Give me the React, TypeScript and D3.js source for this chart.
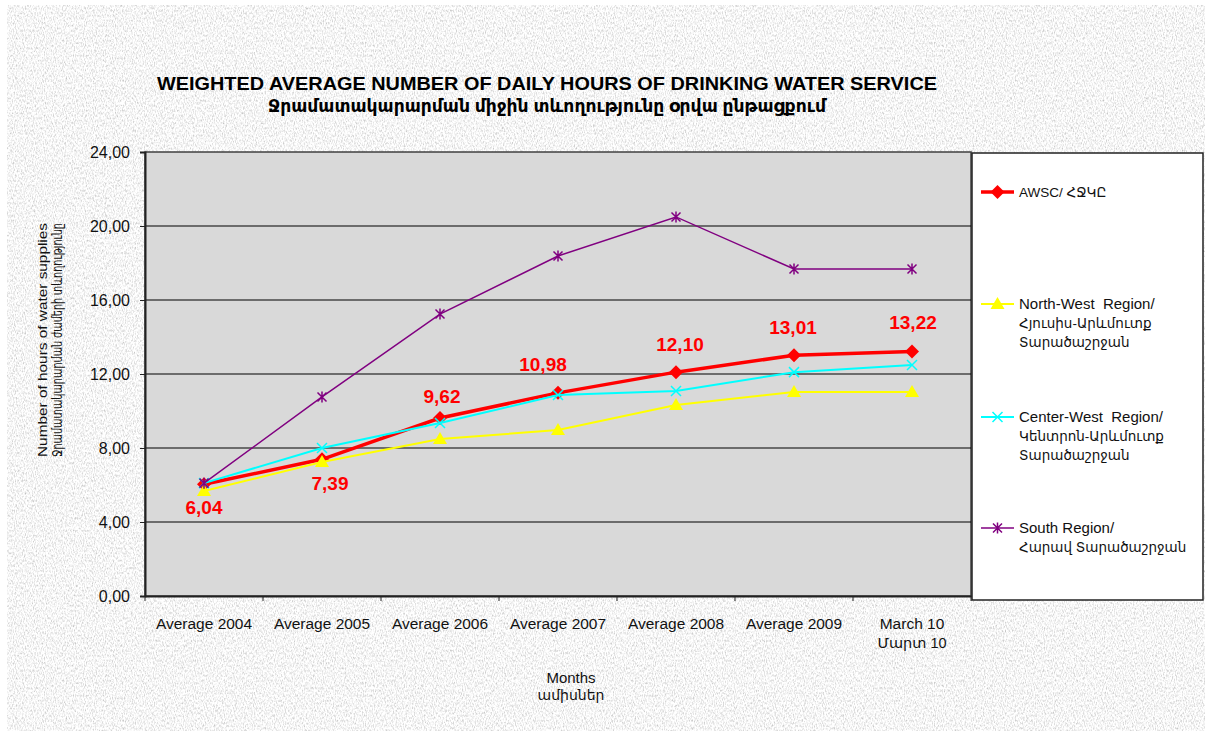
import React, { useEffect, useRef } from "react";
import * as d3 from "d3";

const categories = [
  "Average 2004",
  "Average 2005",
  "Average 2006",
  "Average 2007",
  "Average 2008",
  "Average 2009",
  "March 10",
];
const categoryLines = [[], [], [], [], [], [], ["March 10", "Մարտ 10"]];

const awsc = [6.04, 7.39, 9.62, 10.98, 12.1, 13.01, 13.22];
const northWest = [5.68, 7.24, 8.49, 8.97, 10.32, 11.03, 11.03];
const centerWest = [6.1, 8.0, 9.35, 10.86, 11.08, 12.1, 12.49];
const south = [6.1, 10.76, 15.24, 18.38, 20.49, 17.68, 17.68];

const yTicks = [0, 4, 8, 12, 16, 20, 24];

const seriesNames = [
  ["AWSC/ ՀՋԿԸ"],
  ["North-West  Region/", "Հյուսիս-Արևմուտք", "Տարածաշրջան"],
  ["Center-West  Region/", "Կենտրոն-Արևմուտք", "Տարածաշրջան"],
  ["South Region/", "Հարավ Տարածաշրջան"],
];

const FONT = "'Liberation Sans', Arial, 'DejaVu Sans', sans-serif";
const isArmenian = (s) => /[\u0530-\u058F]/.test(s.replace(/^AWSC\/ /, "x"));

function App() {
  const svgRef = useRef(null);
  const width = 1205;
  const height = 731;

  useEffect(() => {
    const svg = d3.select(svgRef.current);
    svg.selectAll("*").remove();

    const margin = { top: 152, right: 234, bottom: 135, left: 145 };
    const plotRight = width - margin.right;
    const plotBottom = height - margin.bottom;

    // granite-like background
    const defs = svg.append("defs");
    const filter = defs
      .append("filter")
      .attr("id", "granite")
      .attr("x", 0)
      .attr("y", 0)
      .attr("width", "100%")
      .attr("height", "100%");
    filter
      .append("feTurbulence")
      .attr("type", "fractalNoise")
      .attr("baseFrequency", "0.9 0.4")
      .attr("numOctaves", 3)
      .attr("seed", 7);
    filter
      .append("feColorMatrix")
      .attr("type", "matrix")
      .attr(
        "values",
        "0.9 0 0 0 0.47  0.9 0 0 0 0.47  0.9 0 0 0 0.47  0 0 0 0 1"
      );

    svg.append("rect").attr("width", width).attr("height", height).attr("fill", "#fff");
    svg
      .append("rect")
      .attr("x", 7)
      .attr("y", 5)
      .attr("width", width - 7)
      .attr("height", height - 5)
      .attr("filter", "url(#granite)");

    const x = d3.scaleBand().domain(categories).range([margin.left, plotRight]);
    const cx = (i) => x(categories[i]) + x.bandwidth() / 2;
    const y = d3.scaleLinear().domain([0, 24]).range([plotBottom, margin.top]);

    // plot area
    svg
      .append("rect")
      .attr("x", margin.left)
      .attr("y", margin.top)
      .attr("width", plotRight - margin.left)
      .attr("height", plotBottom - margin.top)
      .attr("fill", "#d9d9d9")
      .attr("stroke", "#404040")
      .attr("stroke-width", 1.5);

    // gridlines
    svg
      .append("g")
      .selectAll("line")
      .data(yTicks.filter((t) => t > 0 && t < 24))
      .join("line")
      .attr("x1", margin.left)
      .attr("x2", plotRight)
      .attr("y1", (d) => y(d))
      .attr("y2", (d) => y(d))
      .attr("stroke", "#000")
      .attr("stroke-width", 1.2);

    // y axis
    const yAxis = svg
      .append("g")
      .attr("transform", `translate(${margin.left},0)`)
      .call(
        d3
          .axisLeft(y)
          .tickValues(yTicks)
          .tickSize(5)
          .tickPadding(10)
          .tickFormat((d) => d3.format(".2f")(d).replace(".", ","))
      );
    yAxis.select(".domain").attr("stroke", "#222").attr("stroke-width", 2);
    yAxis.selectAll(".tick line").attr("stroke", "#222");
    yAxis
      .selectAll("text")
      .attr("font-family", FONT)
      .attr("font-size", 16)
      .attr("fill", "#111");

    // x axis
    const xAxis = svg
      .append("g")
      .attr("transform", `translate(0,${plotBottom})`)
      .call(d3.axisBottom(x).tickSize(0).tickFormat(""));
    xAxis.select(".domain").attr("stroke", "#222").attr("stroke-width", 2);
    xAxis
      .selectAll("line.sep")
      .data(d3.range(categories.length + 1))
      .join("line")
      .attr("class", "sep")
      .attr("x1", (i) => margin.left + i * x.bandwidth())
      .attr("x2", (i) => margin.left + i * x.bandwidth())
      .attr("y1", 0)
      .attr("y2", 5)
      .attr("stroke", "#222");

    categories.forEach((c, i) => {
      const lines = categoryLines[i].length ? categoryLines[i] : [c];
      const t = svg
        .append("text")
        .attr("x", cx(i))
        .attr("y", 629)
        .attr("text-anchor", "middle")
        .attr("font-family", FONT)
        .attr("font-size", 15.5)
        .attr("fill", "#111");
      lines.forEach((l, j) => {
        t.append("tspan")
          .attr("x", cx(i))
          .attr("dy", j === 0 ? 0 : 19)
          .attr("font-size", isArmenian(l) ? 14.5 : 15.5)
          .text(l);
      });
    });

    // titles
    svg
      .append("text")
      .attr("x", 547)
      .attr("y", 90)
      .attr("text-anchor", "middle")
      .attr("font-family", FONT)
      .attr("font-weight", "bold")
      .attr("font-size", 19)
      .attr("textLength", 780)
      .attr("lengthAdjust", "spacingAndGlyphs")
      .text("WEIGHTED AVERAGE NUMBER OF  DAILY HOURS OF DRINKING WATER SERVICE");
    svg
      .append("text")
      .attr("x", 547)
      .attr("y", 112)
      .attr("text-anchor", "middle")
      .attr("font-family", FONT)
      .attr("font-weight", "bold")
      .attr("font-size", 17)
      .attr("textLength", 558)
      .attr("lengthAdjust", "spacingAndGlyphs")
      .text("Ջրամատակարարման միջին տևողությունը օրվա ընթացքում");

    svg
      .append("text")
      .attr("x", 571)
      .attr("y", 683)
      .attr("text-anchor", "middle")
      .attr("font-family", FONT)
      .attr("font-size", 15)
      .attr("fill", "#111")
      .text("Months");
    svg
      .append("text")
      .attr("x", 571)
      .attr("y", 700)
      .attr("text-anchor", "middle")
      .attr("font-family", FONT)
      .attr("font-size", 14)
      .attr("fill", "#111")
      .text("ամիսներ");

    const yTitle = svg
      .append("text")
      .attr("transform", `translate(47,340) rotate(-90)`)
      .attr("text-anchor", "middle")
      .attr("font-family", FONT)
      .attr("font-size", 13.5)
      .attr("fill", "#111");
    yTitle
      .append("tspan")
      .attr("x", 0)
      .attr("y", 0)
      .attr("textLength", 234)
      .attr("lengthAdjust", "spacingAndGlyphs")
      .text("Number of hours of water supplies");
    yTitle
      .append("tspan")
      .attr("x", 0)
      .attr("y", 15)
      .attr("textLength", 234)
      .attr("lengthAdjust", "spacingAndGlyphs")
      .text("Ջրամատակարարման ժամերի տևողությունը");

    // series
    const series = [
      { values: awsc, color: "#ff0000", w: 3.5, marker: "diamond", ms: 7 },
      { values: northWest, color: "#ffff00", w: 2, marker: "triangle", ms: 7 },
      { values: centerWest, color: "#00ffff", w: 2, marker: "x", ms: 5 },
      { values: south, color: "#800080", w: 1.5, marker: "star", ms: 4.5 },
    ];

    const drawMarker = (g, type, px, py, color, s) => {
      if (type === "diamond") {
        g.append("path")
          .attr("d", `M${px},${py - s}L${px + s},${py}L${px},${py + s}L${px - s},${py}Z`)
          .attr("fill", color);
      } else if (type === "triangle") {
        g.append("path")
          .attr("d", `M${px},${py - s}L${px + s},${py + 5}L${px - s},${py + 5}Z`)
          .attr("fill", color);
      } else {
        g.append("path")
          .attr(
            "d",
            `M${px - s},${py - s}L${px + s},${py + s}M${px - s},${py + s}L${px + s},${py - s}` +
              (type === "star" ? `M${px},${py - s - 1}L${px},${py + s + 1}` : "")
          )
          .attr("stroke", color)
          .attr("stroke-width", 1.5)
          .attr("fill", "none");
      }
    };

    const line = d3
      .line()
      .x((d, i) => cx(i))
      .y((d) => y(d));

    series.forEach((s) => {
      const g = svg.append("g");
      g.append("path")
        .attr("d", line(s.values))
        .attr("fill", "none")
        .attr("stroke", s.color)
        .attr("stroke-width", s.w);
      s.values.forEach((v, i) => drawMarker(g, s.marker, cx(i), y(v), s.color, s.ms));
    });

    // data labels for AWSC
    const labelDy = [30, 31, -15, -22, -21, -21, -22];
    const labelDx = [0, 8, 2, -15, 4, -1, 1];
    svg
      .append("g")
      .selectAll("text")
      .data(awsc)
      .join("text")
      .attr("x", (d, i) => cx(i) + labelDx[i])
      .attr("y", (d, i) => y(d) + labelDy[i])
      .attr("text-anchor", "middle")
      .attr("font-family", FONT)
      .attr("font-weight", "bold")
      .attr("font-size", 19)
      .attr("fill", "#ff0000")
      .text((d) => d3.format(".2f")(d).replace(".", ","));

    // legend
    svg
      .append("rect")
      .attr("x", 972)
      .attr("y", 153)
      .attr("width", 231)
      .attr("height", 447)
      .attr("fill", "#fff")
      .attr("stroke", "#222")
      .attr("stroke-width", 1.5);

    const legendY = [192, 304, 417, 528];
    series.forEach((s, k) => {
      const g = svg.append("g");
      const ly = legendY[k];
      g.append("line")
        .attr("x1", 981)
        .attr("x2", 1014)
        .attr("y1", ly)
        .attr("y2", ly)
        .attr("stroke", s.color)
        .attr("stroke-width", s.w);
      drawMarker(g, s.marker, 997.5, ly, s.color, s.ms);
      seriesNames[k].forEach((n, j) => {
        g.append("text")
          .attr("x", 1019)
          .attr("y", ly + 5 + j * 19)
          .attr("font-family", FONT)
          .attr("font-size", isArmenian(n) ? 13.5 : 15)
          .attr("fill", "#111")
          .style("white-space", "pre")
          .text(n);
      });
    });
  }, []);

  return (
    <svg
      ref={svgRef}
      width={width}
      height={height}
      style={{ position: "absolute", left: 0, top: 0 }}
    ></svg>
  );
}

export default App;
